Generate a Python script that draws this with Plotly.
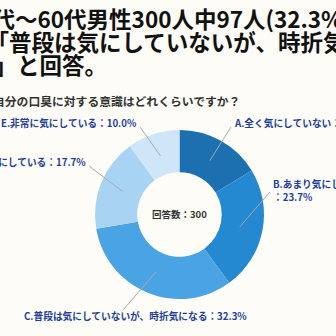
import math
import plotly.graph_objects as go

# Survey answers (share of 300 respondents, %)
labels = [
    "A.全く気にしていない",
    "B.あまり気にしていない",
    "C.普段は気にしていないが、時折気になる",
    "D.少し気にしている",
    "E.非常に気にしている",
]
values = [16.3, 23.7, 32.3, 17.7, 10.0]
colors = ["#1d70b0", "#2589d2", "#4aa3e3", "#a9d3f3", "#cfe6f8"]

title_lines = [
    "20代～60代男性300人中97人(32.3%)",
    "が「普段は気にしていないが、時折気にな",
    "る」と回答。",
]
question = "自分の口臭に対する意識はどれくらいですか？"
center_text = "回答数：300"

W = H = 336
FONT = "Noto Sans CJK JP"
LABEL_COLOR = "#223f9a"

# donut geometry in pixels
cx, cy, R = 179.5, 214.5, 84.5


def px(x):
    return x / W


def py(y):
    return 1 - y / H


fig = go.Figure()
fig.add_trace(go.Pie(
    labels=labels,
    values=values,
    sort=False,
    direction="clockwise",
    rotation=0,
    hole=0.5,
    textinfo="none",
    hoverinfo="label+percent",
    marker=dict(colors=colors, line=dict(width=0)),
    domain=dict(x=[px(cx - R), px(cx + R)], y=[py(cy + R), py(cy - R)]),
    showlegend=False,
))

annotations = []
shapes = []

# title lines
title_x = [-36, -38, -30]
title_y = [18, 41, 64]
for t, x, y in zip(title_lines, title_x, title_y):
    annotations.append(dict(
        text=f"<b>{t}</b>", x=px(x), y=py(y), xref="paper", yref="paper",
        xanchor="left", yanchor="middle", showarrow=False,
        font=dict(family=FONT, size=22.5, color="#111111"),
    ))

annotations.append(dict(
    text=f"<b>{question}</b>", x=px(-9), y=py(100), xref="paper", yref="paper",
    xanchor="left", yanchor="middle", showarrow=False,
    font=dict(family=FONT, size=11.8, color="#333333"),
))

annotations.append(dict(
    text=f"<b>{center_text}</b>", x=px(cx), y=py(cy - 1), xref="paper", yref="paper",
    xanchor="center", yanchor="middle", showarrow=False,
    font=dict(family=FONT, size=9.5, color="#333333"),
))

# label text placement and leader-line end points (pixels)
label_text = [
    f"{labels[0]}：{values[0]:.1f}%",
    f"{labels[1]}<br>：{values[1]:.1f}%",
    f"{labels[2]}：{values[2]:.1f}%",
    f"{labels[3]}：{values[3]:.1f}%",
    f"{labels[4]}：{values[4]:.1f}%",
]
label_pos = [(232, 123, "left"), (271, 190, "left"), (22, 316, "left"),
             (88, 162, "right"), (139, 123, "right")]
line_end = [(231, 127), (270, 192), (123, 310), (89, 166), (140, 127)]

total = sum(values)
acc = 0.0
for i, v in enumerate(values):
    mid = (acc + v / 2) / total * 2 * math.pi
    acc += v
    r_in = 0.73 * R
    x0 = cx + r_in * math.sin(mid)
    y0 = cy - r_in * math.cos(mid)
    x1, y1 = line_end[i]
    shapes.append(dict(
        type="line", xref="paper", yref="paper",
        x0=px(x0), y0=py(y0), x1=px(x1), y1=py(y1),
        line=dict(color="#a3acb6", width=1),
    ))
    lx, ly, anc = label_pos[i]
    annotations.append(dict(
        text=f"<b>{label_text[i]}</b>", x=px(lx), y=py(ly),
        xref="paper", yref="paper", xanchor=anc, yanchor="middle",
        align="left", showarrow=False,
        font=dict(family=FONT, size=9.7, color=LABEL_COLOR),
    ))

fig.update_layout(
    width=W, height=H,
    margin=dict(l=0, r=0, t=0, b=0),
    paper_bgcolor="#fefcf7",
    plot_bgcolor="#fefcf7",
    annotations=annotations,
    shapes=shapes,
)

fig.write_html("out.html")
